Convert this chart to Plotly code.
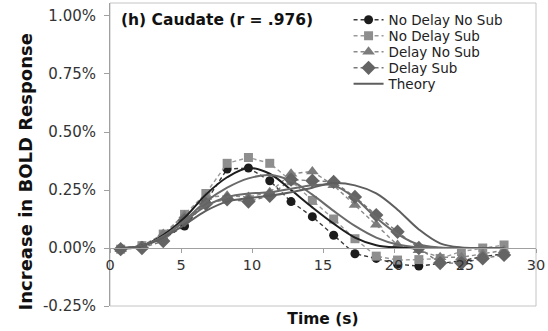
import plotly.graph_objects as go

# Scan times (s)
time_s = [0.75, 2.25, 3.75, 5.25, 6.75, 8.25, 9.75, 11.25, 12.75, 14.25,
          15.75, 17.25, 18.75, 20.25, 21.75, 23.25, 24.75, 26.25, 27.75]

# Observed BOLD increase (%) per condition
no_delay_no_sub = [-0.005, 0.01, 0.04, 0.095, 0.20, 0.34, 0.345, 0.29, 0.20, 0.135,
                   0.055, -0.025, -0.045, -0.07, -0.078, -0.065, -0.055, -0.037, -0.025]
no_delay_sub = [-0.005, 0.01, 0.06, 0.145, 0.235, 0.365, 0.39, 0.365, 0.29, 0.205,
                0.125, 0.04, -0.035, -0.052, -0.05, -0.045, -0.015, 0.0, 0.013]
delay_no_sub = [-0.005, 0.005, 0.06, 0.14, 0.22, 0.225, 0.22, 0.24, 0.32, 0.33,
                0.27, 0.185, 0.1, 0.013, -0.01, -0.04, -0.04, -0.025, -0.01]
delay_sub = [-0.005, 0.0, 0.03, 0.12, 0.19, 0.21, 0.20, 0.225, 0.295, 0.29,
             0.285, 0.22, 0.142, 0.07, 0.0, -0.065, -0.065, -0.045, -0.03]

# Model predictions (%) per condition
theory_no_delay_no_sub = [0.0, 0.01, 0.056, 0.13, 0.23, 0.305, 0.345, 0.32, 0.25, 0.175,
                          0.105, 0.045, 0.012, 0.002, 0.0, 0.0, 0.0, 0.0, 0.0]
theory_no_delay_sub = [0.0, 0.01, 0.05, 0.12, 0.20, 0.26, 0.30, 0.315, 0.29, 0.23,
                       0.16, 0.095, 0.045, 0.015, 0.003, 0.0, 0.0, 0.0, 0.0]
theory_delay_no_sub = [0.0, 0.01, 0.05, 0.115, 0.18, 0.22, 0.235, 0.24, 0.255, 0.27,
                       0.27, 0.215, 0.13, 0.06, 0.015, 0.002, 0.0, 0.0, 0.0]
theory_delay_sub = [0.0, 0.008, 0.045, 0.10, 0.16, 0.20, 0.215, 0.225, 0.24, 0.26,
                    0.28, 0.27, 0.235, 0.165, 0.08, 0.02, 0.002, 0.0, 0.0]

x_ticks = [0, 5, 10, 15, 20, 25, 30]
y_tick_vals = [-0.25, 0.0, 0.25, 0.5, 0.75, 1.0]
y_tick_text = ["-0.25%", "0.00%", "0.25%", "0.50%", "0.75%", "1.00%"]

FONT = "DejaVu Sans"
Y_MIN, Y_MAX = -0.25, 1.056
PLOT_LEFT, PLOT_RIGHT = 110, 538        # plot area edges in px
PLOT_TOP, PLOT_BOTTOM = 3, 306
LEGEND_ROW0, LEGEND_STEP = 20, 16       # compact legend rows in px

fig = go.Figure()

observed = [
    ("No Delay No Sub", no_delay_no_sub, "circle", 9, "#1c1c1c", "#3a3a3a"),
    ("No Delay Sub", no_delay_sub, "square", 9, "#8e8e8e", "#9a9a9a"),
    ("Delay No Sub", delay_no_sub, "triangle-up", 11, "#7c7c7c", "#8a8a8a"),
    ("Delay Sub", delay_sub, "diamond", 11, "#646464", "#787878"),
]
legend_ids = ["legend", "legend2", "legend3", "legend4", "legend5"]

for i, (name, vals, sym, size, mcol, lcol) in enumerate(observed):
    fig.add_trace(go.Scatter(
        x=time_s, y=vals, name=name, mode="lines+markers",
        line=dict(color=lcol, width=1.4, dash="4px,3px"),
        marker=dict(symbol=sym, size=size, color=mcol),
        legend=legend_ids[i],
    ))

theory = [
    (theory_no_delay_no_sub, "#1e1e1e", False),
    (theory_no_delay_sub, "#6a6a6a", False),
    (theory_delay_no_sub, "#6a6a6a", False),
    (theory_delay_sub, "#5e5e5e", True),
]
for vals, col, show in theory:
    fig.add_trace(go.Scatter(
        x=time_s, y=vals, name="Theory", mode="lines",
        line=dict(color=col, width=2, shape="spline", smoothing=1.0),
        showlegend=show, legend=legend_ids[4],
    ))

zero_pos = (0 - Y_MIN) / (Y_MAX - Y_MIN)
plot_h = PLOT_BOTTOM - PLOT_TOP
plot_w = PLOT_RIGHT - PLOT_LEFT

# One single-entry legend per row so the rows can sit closer than the default spacing
legend_layouts = {}
for i, lid in enumerate(legend_ids):
    row_px = LEGEND_ROW0 + i * LEGEND_STEP
    legend_layouts[lid] = dict(
        x=0.56, y=(PLOT_BOTTOM - row_px) / plot_h,
        xanchor="left", yanchor="middle",
        bgcolor="rgba(0,0,0,0)", borderwidth=0,
        font=dict(family=FONT, size=13.5, color="#222222"),
        itemwidth=30,
    )

fig.update_layout(
    width=548, height=331,
    margin=dict(l=PLOT_LEFT, r=548 - PLOT_RIGHT, t=PLOT_TOP, b=331 - PLOT_BOTTOM),
    paper_bgcolor="white", plot_bgcolor="white",
    font=dict(family=FONT, size=14, color="#333333"),
    title=dict(
        text="<b>(h) Caudate (r = .976)</b>",
        xref="container", yref="container",
        x=121 / 548, xanchor="left", y=1 - 20 / 331, yanchor="middle",
        font=dict(family=FONT, size=15.5, color="#111111"),
    ),
    showlegend=True,
    xaxis=dict(
        range=[0, 30], tickvals=x_ticks,
        anchor="free", position=zero_pos,
        showline=True, linecolor="#a0a0a0", linewidth=1,
        ticks="outside", ticklen=4, tickcolor="#a0a0a0",
        showgrid=False, zeroline=False,
        tickfont=dict(family=FONT, size=14.5, color="#333333"),
        title=dict(text="<b>Time (s)</b>", standoff=40,
                   font=dict(family=FONT, size=15.5, color="#111111")),
    ),
    yaxis=dict(
        range=[Y_MIN, Y_MAX], tickvals=y_tick_vals, ticktext=y_tick_text,
        showline=True, linecolor="#a0a0a0", linewidth=1,
        ticks="outside", ticklen=5, tickcolor="#a0a0a0",
        ticklabelstandoff=5,
        showgrid=False, zeroline=False,
        tickfont=dict(family=FONT, size=15, color="#333333"),
    ),
    annotations=[dict(
        text="<b>Increase in BOLD Response</b>", textangle=-90,
        xref="paper", yref="paper",
        x=(25 - PLOT_LEFT) / plot_w, y=(PLOT_BOTTOM - 172) / plot_h,
        xanchor="center", yanchor="middle", showarrow=False,
        font=dict(family=FONT, size=18, color="#111111"),
    )],
    shapes=[dict(type="rect", xref="paper", yref="paper", x0=0, x1=1, y0=0, y1=1,
                 line=dict(color="#c4c4c4", width=1), layer="below")],
    **legend_layouts,
)

fig.write_html("out.html")
